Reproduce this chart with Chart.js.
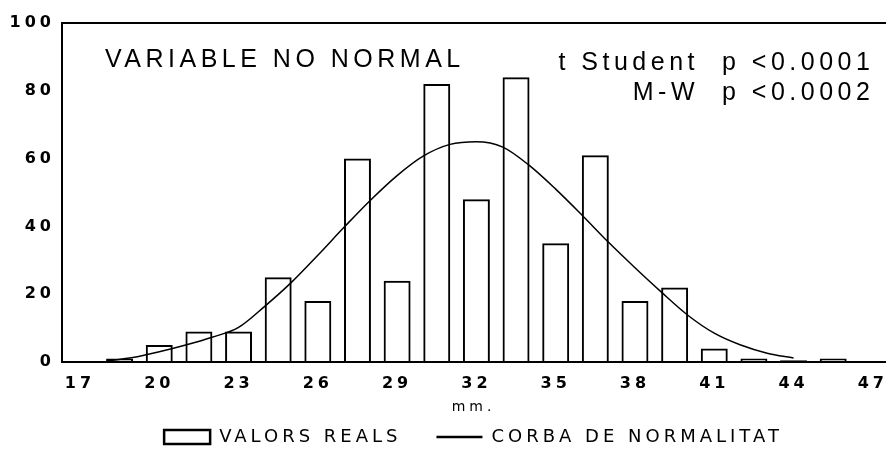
<!DOCTYPE html>
<html>
<head>
<meta charset="utf-8">
<title>Variable no normal</title>
<script src="https://cdn.jsdelivr.net/npm/chart.js@4.4.1/dist/chart.umd.min.js"></script>
<style>
  body { margin: 0; background: #fff; }
  #box { width: 889px; height: 459px; }
</style>
</head>
<body>
<div id="box"><canvas id="hist" width="889" height="459"></canvas></div>
<script>
// histogram bins (mm.) and counts
var binCenters = [18.5, 20, 21.5, 23, 24.5, 26, 27.5, 29, 30.5, 32, 33.5, 35, 36.5, 38, 39.5, 41, 42.5, 44, 45.5];
var binCounts  = [1, 5, 9, 9, 25, 18, 60, 24, 82, 48, 84, 35, 61, 18, 22, 4, 1, 0.5, 1];

// normal curve, read point by point
var curveX = [18, 19, 20, 21, 22, 23, 24, 25, 26, 27, 28, 29, 30, 31, 32, 33, 34, 35, 36, 37, 38, 39, 40, 41, 42, 43, 44];
var curveY = [0.3, 1.3, 3.0, 5.0, 7.3, 10.2, 16.5, 23.5, 31.5, 39.8, 47.8, 55.0, 60.8, 64.2, 65.0, 63.4, 58.0, 51.0, 43.3, 35.3, 27.8, 20.6, 13.8, 8.5, 5.0, 2.6, 1.2];

var xTicks = [17, 20, 23, 26, 29, 32, 35, 38, 41, 44, 47];
var yTicks = [0, 20, 40, 60, 80, 100];

var noteTitle = 'VARIABLE NO NORMAL';
var testNames = ['t Student', 'M-W'];
var testValues = ['p <0.0001', 'p <0.0002'];
var legendNames = ['VALORS REALS', 'CORBA DE NORMALITAT'];
var axisName = 'mm.';

var X_MIN = 16.32, X_MAX = 47.46;

var bars = [];
for (var i = 0; i < binCenters.length; i++) {
	bars.push({x: binCenters[i], y: binCounts[i]});
}
var curve = [];
for (var j = 0; j < curveX.length; j++) {
	curve.push({x: curveX[j], y: curveY[j]});
}

// wide plotter-like lettering + the notes inside the frame
var notesPlugin = {
	id: 'notes',
	beforeLayout: function(chart){ chart.ctx.letterSpacing = '4px'; },
	beforeDraw: function(chart){ chart.ctx.letterSpacing = '4px'; },
	afterDraw: function(chart){
		var ctx = chart.ctx, a = chart.chartArea;
		ctx.save();
		ctx.fillStyle = '#000';
		ctx.font = '25px "Liberation Sans"';
		ctx.letterSpacing = '4.5px';
		ctx.textBaseline = 'alphabetic';
		ctx.textAlign = 'left';
		ctx.fillText(noteTitle, a.left + 43, a.top + 44);
		for (var k = 0; k < testNames.length; k++) {
			var y = a.top + 47 + k * 30;
			ctx.textAlign = 'right';
			ctx.fillText(testNames[k], a.right - 186, y);
			ctx.textAlign = 'left';
			ctx.fillText(testValues[k], a.right - 163, y);
		}
		ctx.restore();
	}
};

Chart.defaults.font.family = 'DejaVu Sans';
Chart.defaults.color = '#000';

new Chart(document.getElementById('hist'), {
	type: 'bar',
	data: {
		datasets: [
			{
				type: 'bar',
				label: legendNames[0],
				data: bars,
				backgroundColor: 'rgba(0,0,0,0)',
				borderColor: '#000',
				borderWidth: 2,
				barPercentage: 0.68,
				categoryPercentage: 1,
				order: 2
			},
			{
				type: 'line',
				label: legendNames[1],
				data: curve,
				borderColor: '#000',
				borderWidth: 1.5,
				pointRadius: 0,
				cubicInterpolationMode: 'monotone',
				fill: false,
				order: 1
			}
		]
	},
	options: {
		responsive: false,
		animation: false,
		devicePixelRatio: 1,
		layout: {
			autoPadding: false,
			padding: {top: 23, right: 4, bottom: 3, left: 0}
		},
		plugins: {
			tooltip: {enabled: false},
			legend: {
				position: 'bottom',
				fullSize: false,
				labels: {
					color: '#000',
					font: {size: 18},
					usePointStyle: true,
					pointStyleWidth: 46,
					boxHeight: 14,
					padding: 35,
					generateLabels: function(chart){
						return [
							{text: legendNames[0], pointStyle: 'rect', fillStyle: '#fff', strokeStyle: '#000', lineWidth: 2.5, datasetIndex: 0},
							{text: legendNames[1], pointStyle: 'line', fillStyle: '#000', strokeStyle: '#000', lineWidth: 2.5, datasetIndex: 1}
						];
					}
				}
			}
		},
		scales: {
			x: {
				type: 'linear',
				position: 'bottom',
				min: X_MIN,
				max: X_MAX,
				offset: false,
				grid: {display: false, drawTicks: false},
				border: {display: true, color: '#000', width: 2},
				ticks: {
					font: {size: 16, weight: 'bold'},
					padding: 12,
					maxRotation: 0
				},
				afterBuildTicks: function(scale){
					scale.ticks = xTicks.map(function(v){ return {value: v}; });
				},
				// axis box holds just the tick labels; the unit label sits in the gap above the legend row
				afterFit: function(scale){
					scale.height = 31;
					scale.paddingLeft = 0;
					scale.paddingRight = 0;
				},
				title: {
					display: true,
					text: axisName,
					font: {size: 14},
					padding: {top: 0, bottom: -23}
				}
			},
			frameTop: {
				type: 'linear',
				position: 'top',
				min: X_MIN,
				max: X_MAX,
				grid: {display: false, drawTicks: false},
				border: {display: true, color: '#000', width: 2},
				ticks: {display: false},
				afterFit: function(scale){
					scale.height = 0;
					scale.paddingLeft = 0;
					scale.paddingRight = 0;
				}
			},
			y: {
				min: 0,
				max: 100,
				grid: {display: false, drawTicks: false},
				border: {display: true, color: '#000', width: 2},
				ticks: {
					font: {size: 16, weight: 'bold'},
					padding: 7
				},
				afterBuildTicks: function(scale){
					scale.ticks = yTicks.map(function(v){ return {value: v}; });
				},
				afterFit: function(scale){ scale.width = 62; }
			}
		}
	},
	plugins: [notesPlugin]
});
</script>
</body>
</html>
